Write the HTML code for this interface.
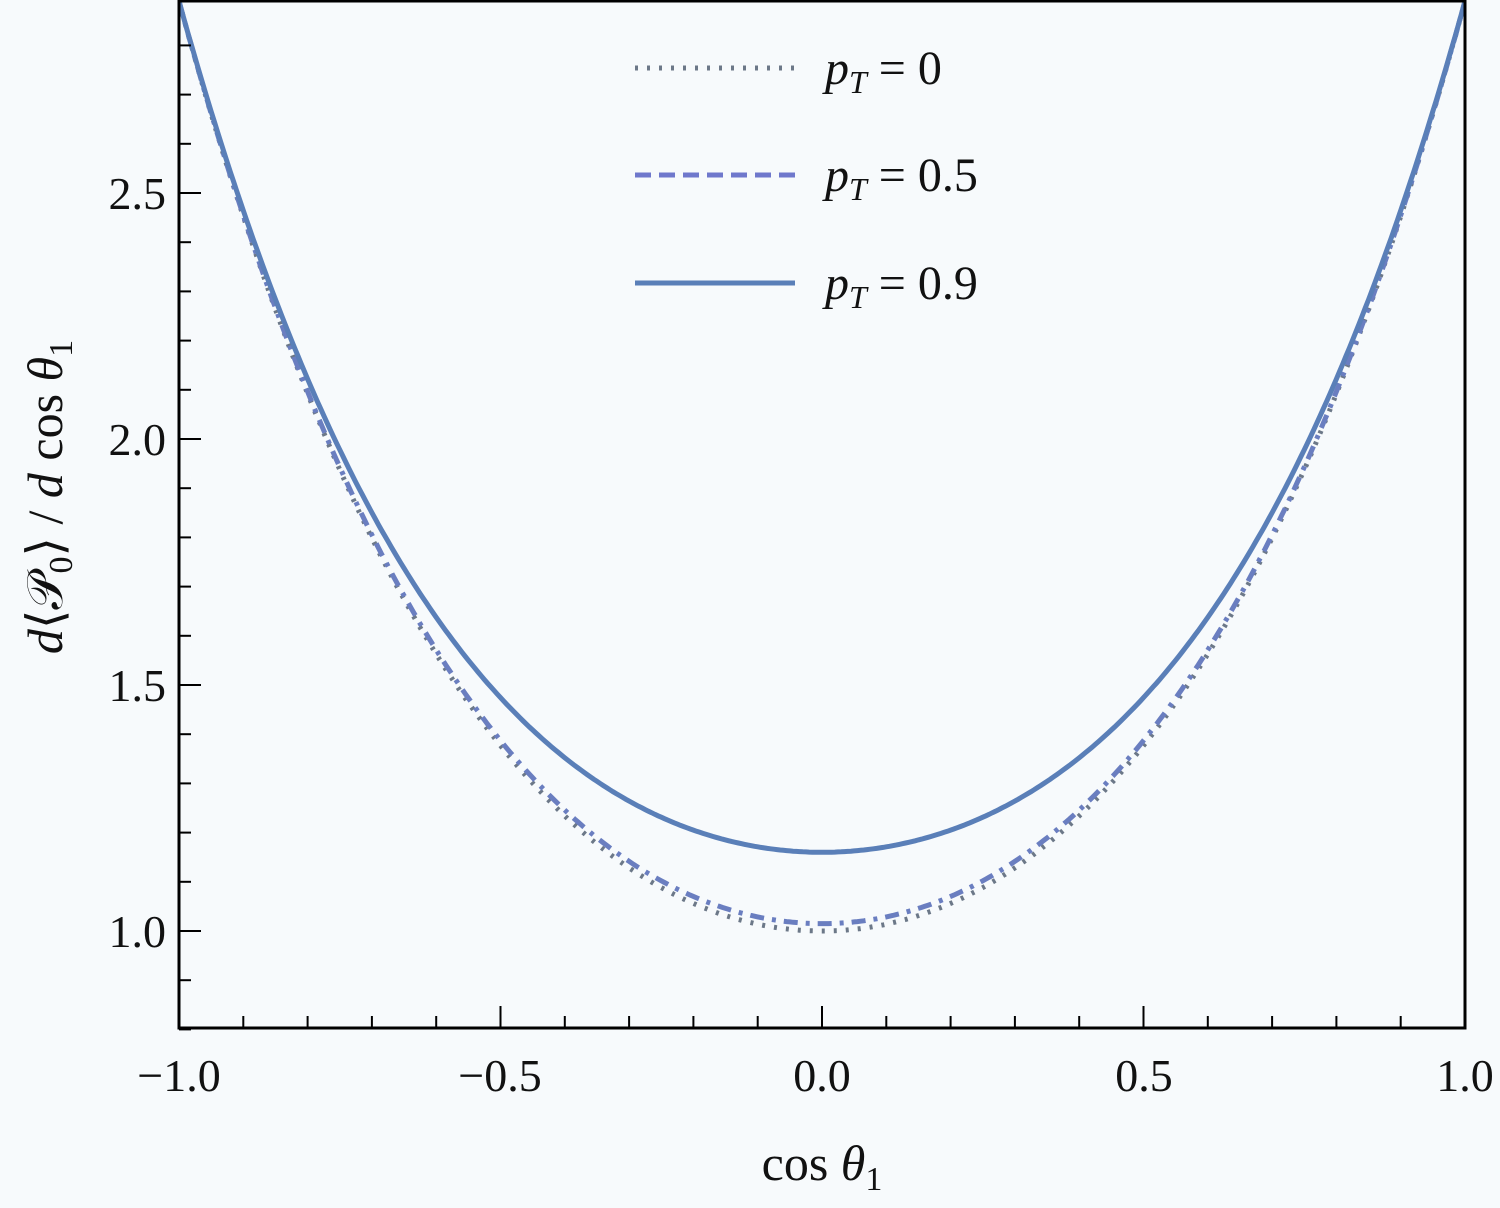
<!DOCTYPE html>
<html><head><meta charset="utf-8"><style>
html,body{margin:0;padding:0;background:#f7fafc;}
svg{display:block;}
text{font-family:"Liberation Serif",serif;fill:#111;}
</style></head><body>
<svg width="1500" height="1208" viewBox="0 0 1500 1208" xmlns="http://www.w3.org/2000/svg">
<rect width="1500" height="1208" fill="#f7fafc"/>
<defs><clipPath id="c"><rect x="179" y="0" width="1286" height="1028"/></clipPath></defs>
<g clip-path="url(#c)" fill="none" stroke-width="5">
<path id="p0" stroke="#6c7888" stroke-dasharray="3,9" d=""/>
<path id="p5" stroke="#6a7ec0" stroke-dasharray="14,8,4,8" d=""/>
<path id="p9" stroke="#5a7fb8" d=""/>
</g>
<rect x="179" y="1" width="1286" height="1027" fill="none" stroke="#000" stroke-width="3"/>
<g id="ticks" stroke="#000" stroke-width="2"></g>
<g font-size="46" text-anchor="middle">
<text x="179" y="1091">−1.0</text>
<text x="500" y="1091">−0.5</text>
<text x="822" y="1091">0.0</text>
<text x="1144" y="1091">0.5</text>
<text x="1465" y="1091">1.0</text>
</g>
<g font-size="46" text-anchor="end">
<text x="166" y="947">1.0</text>
<text x="166" y="701">1.5</text>
<text x="166" y="455">2.0</text>
<text x="166" y="209">2.5</text>
</g>
<text x="822" y="1180" font-size="50" text-anchor="middle">cos <tspan font-style="italic">θ</tspan><tspan font-size="34" dy="10">1</tspan></text>
<text transform="translate(62,497) rotate(-90)" font-size="50" text-anchor="middle"><tspan font-style="italic">d</tspan>⟨𝒫<tspan font-size="34" dy="10">0</tspan><tspan dy="-10">⟩ / </tspan><tspan font-style="italic">d</tspan> cos <tspan font-style="italic">θ</tspan><tspan font-size="34" dy="10">1</tspan></text>
<g stroke-width="5" fill="none">
<line x1="635" y1="68" x2="795" y2="68" stroke="#6c7888" stroke-dasharray="3,9"/>
<line x1="635" y1="175" x2="795" y2="175" stroke="#6f78cc" stroke-dasharray="16,8"/>
<line x1="635" y1="283" x2="795" y2="283" stroke="#5a7fb8"/>
</g>
<g font-size="48">
<text x="825" y="84"><tspan font-style="italic">p</tspan><tspan font-style="italic" font-size="32" dy="9">T</tspan><tspan dy="-9"> = 0</tspan></text>
<text x="825" y="191"><tspan font-style="italic">p</tspan><tspan font-style="italic" font-size="32" dy="9">T</tspan><tspan dy="-9"> = 0.5</tspan></text>
<text x="825" y="299"><tspan font-style="italic">p</tspan><tspan font-style="italic" font-size="32" dy="9">T</tspan><tspan dy="-9"> = 0.9</tspan></text>
</g>
</svg>
<script>
function X(x){return 822+x*643;}
function Y(v){return 931-(v-1)*492;}
function path(a,b,c){let d="";for(let i=0;i<=400;i++){let x=-1+i/200,x2=x*x;d+=(i?"L":"M")+X(x).toFixed(1)+","+Y(a+b*x2+c*x2*x2).toFixed(1);}return d;}
document.getElementById("p0").setAttribute("d",path(1.0,1.38,0.51));
document.getElementById("p5").setAttribute("d",path(1.015,1.36,0.515));
document.getElementById("p9").setAttribute("d",path(1.16,1.1,0.63));
let g=document.getElementById("ticks"),s="";
for(let i=-10;i<=10;i++){let x=X(i/10),L=(i%5==0)?22:12;s+=`<line x1="${x}" y1="1028" x2="${x}" y2="${1028-L}"/>`;}
for(let k=8;k<=28;k++){let v=k/10,y=Y(v),L=(k%5==0)?22:12;s+=`<line x1="179" y1="${y}" x2="${179+L}" y2="${y}"/>`;}
g.innerHTML=s;
</script>
</body></html>
